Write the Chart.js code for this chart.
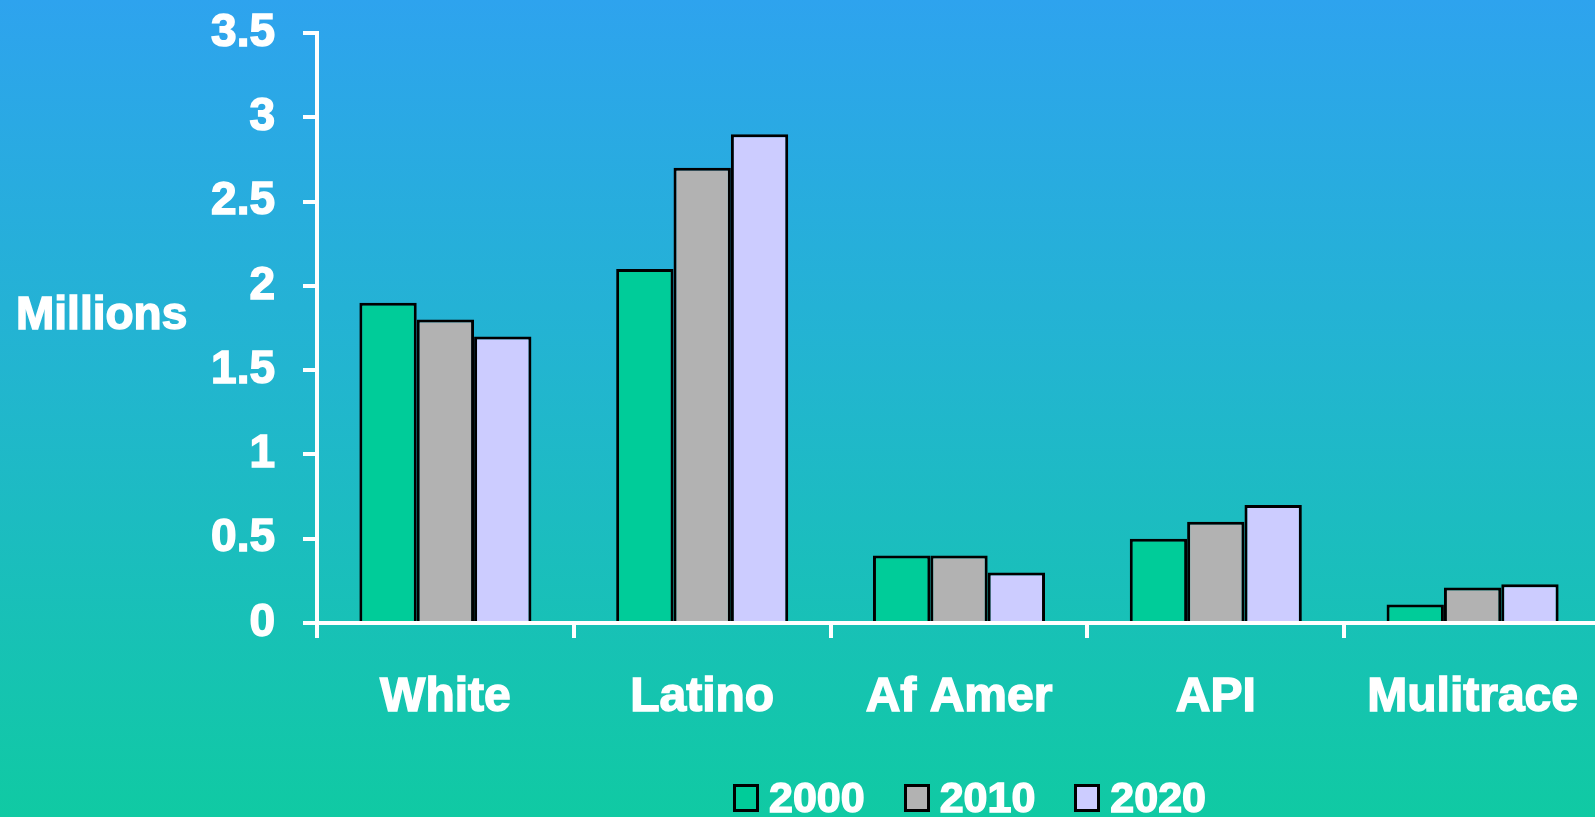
<!DOCTYPE html>
<html>
<head>
<meta charset="utf-8">
<script src="https://cdn.jsdelivr.net/npm/chart.js@4.4.1/dist/chart.umd.min.js"></script>
<style>
  html, body { margin: 0; padding: 0; overflow: hidden; }
  body {
    width: 1595px; height: 817px;
    background: linear-gradient(to bottom, #2ea3ee 0%, #22b5d0 45%, #10caa3 100%);
    font-family: 'Liberation Sans', Arial, sans-serif;
    position: relative;
  }
  #wrap { position: absolute; left: 0; top: 0; width: 1601px; height: 817px; }
  #legend {
    position: absolute; top: 773px; left: 733px;
    display: flex; align-items: center;
    color: #fff; font-weight: bold; font-size: 43px;
    -webkit-text-stroke: 1.5px #fff;
  }
  .item { display: flex; align-items: center; margin-right: 39px; }
  .box { width: 20px; height: 22px; border: 3px solid #000; margin-right: 10px; }
</style>
</head>
<body>
<div id="wrap"><canvas id="c"></canvas></div>
<div id="legend"></div>
<script>
// values (millions)
const categories = ['White', 'Latino', 'Af Amer', 'API', 'Mulitrace'];
const years = ['2000', '2010', '2020'];
const v2000 = [1.9, 2.1, 0.4, 0.5, 0.11];
const v2010 = [1.8, 2.7, 0.4, 0.6, 0.21];
const v2020 = [1.7, 2.9, 0.3, 0.7, 0.23];
const colors = ['#00cc99', '#b2b2b2', '#ccccff'];

const series = [v2000, v2010, v2020];
const FONT = '"Liberation Sans", Arial, sans-serif';

// "Millions" label sits horizontally left of the axis
const sideTitle = {
  id: 'sideTitle',
  afterDraw(chart) {
    const ctx = chart.ctx;
    ctx.save();
    ctx.fillStyle = '#fff';
    ctx.strokeStyle = '#fff';
    ctx.lineWidth = 1.5;
    ctx.font = 'bold 46px ' + FONT;
    ctx.textBaseline = 'middle';
    ctx.fillText('Millions', 16, 316);
    ctx.strokeText('Millions', 16, 316);
    ctx.restore();
  }
};

new Chart(document.getElementById('c'), {
  type: 'bar',
  data: {
    labels: categories,
    datasets: series.map((vals, i) => ({
      label: years[i],
      data: vals,
      backgroundColor: colors[i],
      borderColor: '#000',
      borderWidth: 3,
      categoryPercentage: 0.67,
      barPercentage: 1.0
    }))
  },
  options: {
    responsive: true,
    maintainAspectRatio: false,
    animation: false,
    layout: { padding: { top: 33, bottom: 74, left: 0, right: 0 } },
    plugins: { legend: { display: false }, tooltip: { enabled: false } },
    scales: {
      x: {
        grid: { drawOnChartArea: false, drawTicks: true, tickLength: 15, color: '#fff', lineWidth: 4, offset: true },
        border: { color: '#fff', width: 4 },
        ticks: {
          color: '#fff', padding: 31, maxRotation: 0, autoSkip: false,
          textStrokeColor: '#fff', textStrokeWidth: 1.5,
          font: { family: FONT, size: 48, weight: 'bold' }
        },
        afterFit(scale) {
          scale.height = 120;
          scale.paddingLeft = 0; scale.paddingRight = 0;
        }
      },
      y: {
        min: 0, max: 3.5,
        grid: { drawOnChartArea: false, drawTicks: true, tickLength: 14, color: '#fff', lineWidth: 4 },
        border: { color: '#fff', width: 4 },
        ticks: {
          stepSize: 0.5, color: '#fff', padding: 28,
          textStrokeColor: '#fff', textStrokeWidth: 1.5,
          font: { family: FONT, size: 46, weight: 'bold' },
          callback: (v) => String(v)
        },
        afterFit(scale) {
          scale.width = 317;
          scale.paddingTop = 0; scale.paddingBottom = 0;
        }
      }
    }
  },
  plugins: [sideTitle]
});

// legend
const leg = document.getElementById('legend');
years.forEach((y, i) => {
  const it = document.createElement('div');
  it.className = 'item';
  const b = document.createElement('div');
  b.className = 'box';
  b.style.background = colors[i];
  const t = document.createElement('span');
  t.textContent = y;
  it.appendChild(b); it.appendChild(t);
  leg.appendChild(it);
});
</script>
</body>
</html>
